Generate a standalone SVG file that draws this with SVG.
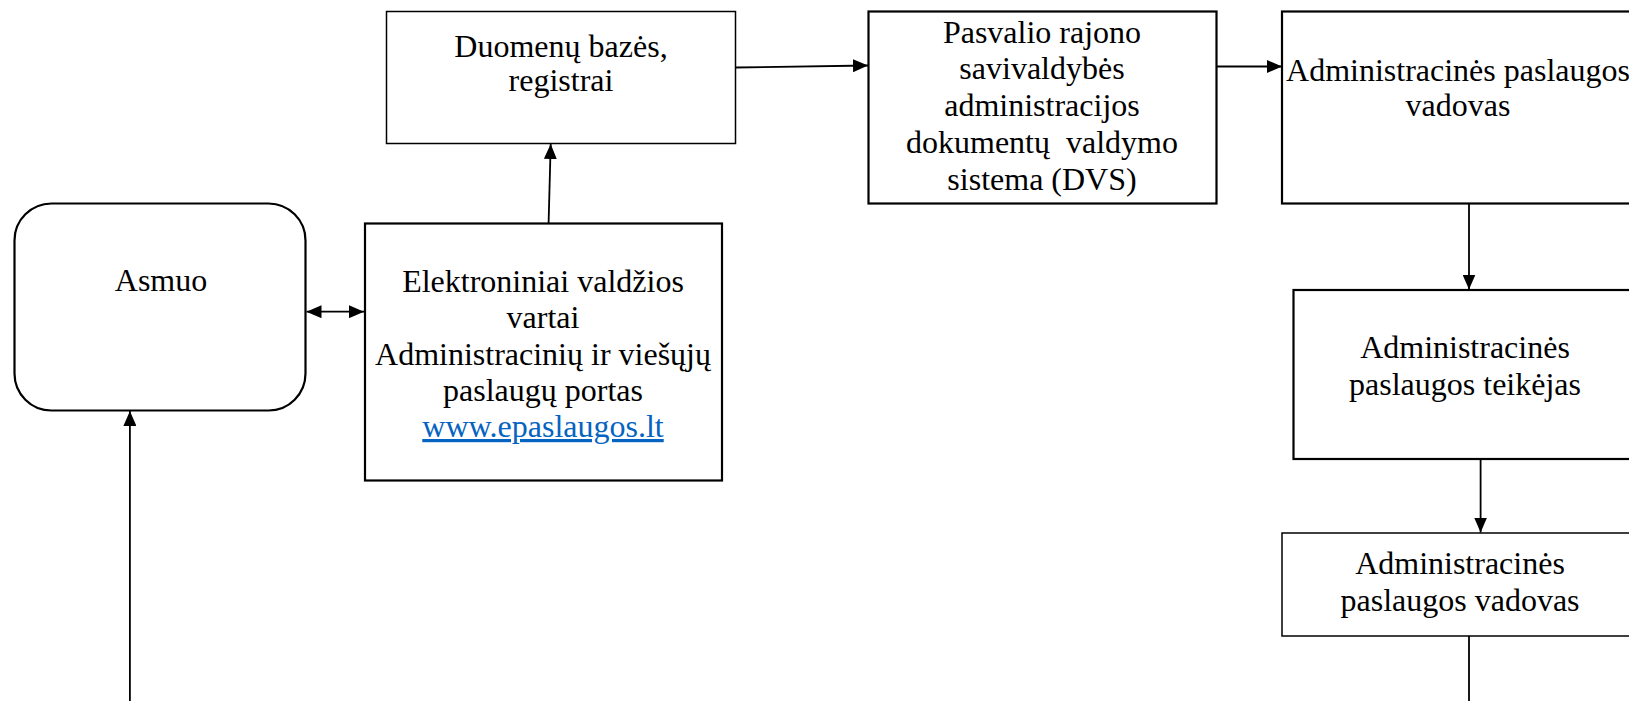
<svg xmlns="http://www.w3.org/2000/svg" width="1629" height="701" viewBox="0 0 1629 701">
<style>
.box{fill:#fff;stroke:#000;stroke-width:2.2}
.thin{fill:#fff;stroke:#000;stroke-width:1.5}
.t{font-family:"Liberation Serif","Times New Roman",serif;font-size:32px;fill:#000;text-anchor:middle;white-space:pre}
.link{fill:#0563C1;text-decoration:underline}
.c{stroke:#000;stroke-width:1.8;fill:none}
</style>
<defs>
<marker id="ah" viewBox="0 0 15 13" refX="15" refY="6.5" markerWidth="15" markerHeight="13" markerUnits="userSpaceOnUse" orient="auto-start-reverse">
<path d="M0,0 L15,6.5 L0,13 Z" fill="#000"/>
</marker>
</defs>
<rect width="1629" height="701" fill="#fff"/>
<g id="asmuo">
<rect class="box" x="14.5" y="203.5" width="291" height="207" rx="37" ry="37"/>
<text class="t" x="161" y="291">Asmuo</text>
</g>
<g id="evartai">
<rect class="box" x="365" y="223.5" width="357" height="257"/>
<text class="t" x="543" y="292">Elektroniniai valdžios</text>
<text class="t" x="543" y="328">vartai</text>
<text class="t" x="543" y="365">Administracinių ir viešųjų</text>
<text class="t" x="543" y="401">paslaugų portas</text>
<text class="t link" x="543" y="437">www.epaslaugos.lt</text>
</g>
<g id="duomenu">
<rect class="thin" x="386.5" y="11.5" width="349" height="132"/>
<text class="t" x="561" y="57">Duomenų bazės,</text>
<text class="t" x="561" y="91">registrai</text>
</g>
<g id="dvs">
<rect class="box" x="868.5" y="11.5" width="348" height="192"/>
<text class="t" x="1042" y="43">Pasvalio rajono</text>
<text class="t" x="1042" y="79">savivaldybės</text>
<text class="t" x="1042" y="116">administracijos</text>
<text class="t" x="1042" y="153" xml:space="preserve">dokumentų  valdymo</text>
<text class="t" x="1042" y="190">sistema (DVS)</text>
</g>
<g id="vadovas1">
<rect class="box" x="1282" y="11.5" width="360" height="192"/>
<text class="t" x="1458" y="81">Administracinės paslaugos</text>
<text class="t" x="1458" y="116">vadovas</text>
</g>
<g id="teikejas">
<rect class="box" x="1293.5" y="290" width="350" height="169"/>
<text class="t" x="1465" y="358">Administracinės</text>
<text class="t" x="1465" y="395">paslaugos teikėjas</text>
</g>
<g id="vadovas2">
<rect class="thin" x="1282" y="533" width="360" height="103"/>
<text class="t" x="1460" y="574">Administracinės</text>
<text class="t" x="1460" y="611">paslaugos vadovas</text>
</g>
<g id="connectors">
<line class="c" x1="306.5" y1="311.7" x2="364" y2="311.7" marker-start="url(#ah)" marker-end="url(#ah)"/>
<line class="c" x1="548.6" y1="223" x2="550.7" y2="144" marker-end="url(#ah)"/>
<line class="c" x1="735.6" y1="67.5" x2="868" y2="65.5" marker-end="url(#ah)"/>
<line class="c" x1="1217" y1="66.5" x2="1282" y2="66.5" marker-end="url(#ah)"/>
<line class="c" x1="1469" y1="204" x2="1469" y2="289.5" marker-end="url(#ah)"/>
<line class="c" x1="1480.6" y1="459.5" x2="1480.6" y2="532.5" marker-end="url(#ah)"/>
<line class="c" x1="1469" y1="636" x2="1469" y2="702"/>
<line class="c" x1="129.9" y1="702" x2="129.9" y2="411" marker-end="url(#ah)"/>
</g>
</svg>
